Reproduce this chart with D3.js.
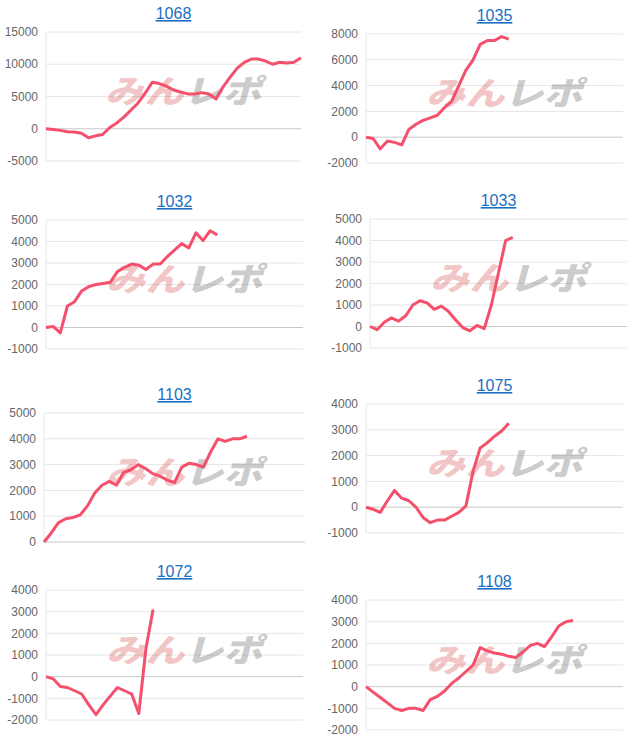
<!DOCTYPE html>
<html><head><meta charset="utf-8">
<script src="https://cdn.jsdelivr.net/npm/d3@7"></script>
<style>body{margin:0;background:#fff}svg{display:block}</style>
</head><body>
<svg id="c" width="640" height="745"></svg>
<script>
const titles = ["1068", "1035", "1032", "1033", "1103", "1075", "1072", "1108"];
const v1068 = [0,-100,-250,-450,-500,-700,-1400,-1100,-900,200,900,1800,2900,4000,5500,7200,7000,6600,6000,5700,5400,5400,5600,5400,4600,6500,8000,9400,10300,10800,10800,10500,10000,10300,10200,10300,11000];
const v1035 = [0,-100,-900,-300,-400,-600,600,1000,1300,1500,1700,2300,2800,4000,5200,6000,7200,7500,7500,7800,7600];
const v1032 = [0,50,-250,1000,1200,1700,1900,2000,2050,2100,2600,2800,2950,2900,2700,2950,2950,3300,3600,3900,3700,4400,4050,4500,4300];
const v1033 = [0,-150,200,400,250,500,1000,1200,1100,800,950,700,300,-50,-200,50,-100,1000,2500,4000,4150];
const v1103 = [0,350,750,900,950,1050,1400,1900,2200,2350,2200,2700,2800,3000,2850,2650,2550,2400,2300,2900,3050,3000,2900,3500,4000,3900,4000,4000,4100];
const v1075 = [0,-80,-200,250,650,350,250,0,-400,-600,-500,-500,-350,-200,50,1400,2300,2500,2750,2950,3250];
const v1072 = [0,-100,-450,-500,-650,-800,-1300,-1750,-1300,-900,-500,-650,-800,-1700,1300,3100];
const v1108 = [0,-250,-500,-750,-1000,-1100,-1000,-1000,-1100,-600,-450,-200,150,400,700,1000,1800,1650,1550,1500,1400,1350,1600,1900,2000,1850,2300,2800,3000,3050];
const series = [v1068, v1035, v1032, v1033, v1103, v1075, v1072, v1108];
const yDomains = [[-5000,15000],[-2000,8000],[-1000,5000],[-1000,5000],[0,5000],[-1000,4000],[-2000,4000],[-2000,4000]];
const yTicks = [[-5000,0,5000,10000,15000],[-2000,0,2000,4000,6000,8000],[-1000,0,1000,2000,3000,4000,5000],[-1000,0,1000,2000,3000,4000,5000],[0,1000,2000,3000,4000,5000],[-1000,0,1000,2000,3000,4000],[-2000,-1000,0,1000,2000,3000,4000],[-2000,-1000,0,1000,2000,3000,4000]];
const xMax = 36;

// panel boxes: left, right, top, bottom
const boxes = [
  [46,301,32,161],[366,623,34,163],
  [46,303,220,349],[370,627,219,348],
  [44,305,413,542],[366,623,404,533],
  [46,303,590,720],[366,623,600,730]
];

const svg = d3.select("#c");
const lineColor = "#f4506c";

series.forEach((vals, i) => {
  const [x0, x1, y0, y1] = boxes[i];
  const x = d3.scaleLinear().domain([0, xMax]).range([x0, x1]);
  const y = d3.scaleLinear().domain(yDomains[i]).range([y1, y0]);
  const g = svg.append("g");

  g.append("text").attr("x", (x0 + x1) / 2).attr("y", y0 - 13)
    .attr("text-anchor", "middle").attr("font-family", "Arial, Liberation Sans, sans-serif")
    .attr("font-size", 16).attr("fill", "#1a6fc4").attr("text-decoration", "underline")
    .text(titles[i]);

  g.selectAll(".grid").data(yTicks[i]).join("line")
    .attr("x1", x0).attr("x2", x1).attr("y1", d => y(d)).attr("y2", d => y(d))
    .attr("stroke", d => d === 0 ? "#c8c8c8" : "#e6e6e6").attr("stroke-width", 1);
  g.append("line").attr("x1", x0).attr("x2", x0).attr("y1", y0).attr("y2", y1)
    .attr("stroke", "#e6e6e6");

  g.selectAll(".lab").data(yTicks[i]).join("text")
    .attr("x", x0 - 8).attr("y", d => y(d)).attr("dy", "0.35em")
    .attr("text-anchor", "end").attr("font-family", "Arial, Liberation Sans, sans-serif")
    .attr("font-size", 12).attr("fill", "#666").text(d => d);

  // watermark
  const cx = (x0 + x1) / 2 + 10, cy = y0 + (y1 - y0) * 0.55;
  const wm = g.append("text")
    .attr("text-anchor", "middle").attr("font-family", "Noto Sans CJK JP, sans-serif")
    .attr("font-size", 34).attr("font-weight", "900")
    .attr("transform", `translate(${cx},${cy}) skewX(-15) scale(1.15,0.95)`);
  wm.append("tspan").attr("fill", "rgba(220,90,90,0.35)").text("みん");
  wm.append("tspan").attr("fill", "rgba(120,120,120,0.4)").text("レポ");

  g.append("path").datum(vals)
    .attr("fill", "none").attr("stroke", lineColor).attr("stroke-width", 3)
    .attr("stroke-linejoin", "round")
    .attr("d", d3.line().x((d, j) => x(j)).y(d => y(d)));
});
</script>
</body></html>
